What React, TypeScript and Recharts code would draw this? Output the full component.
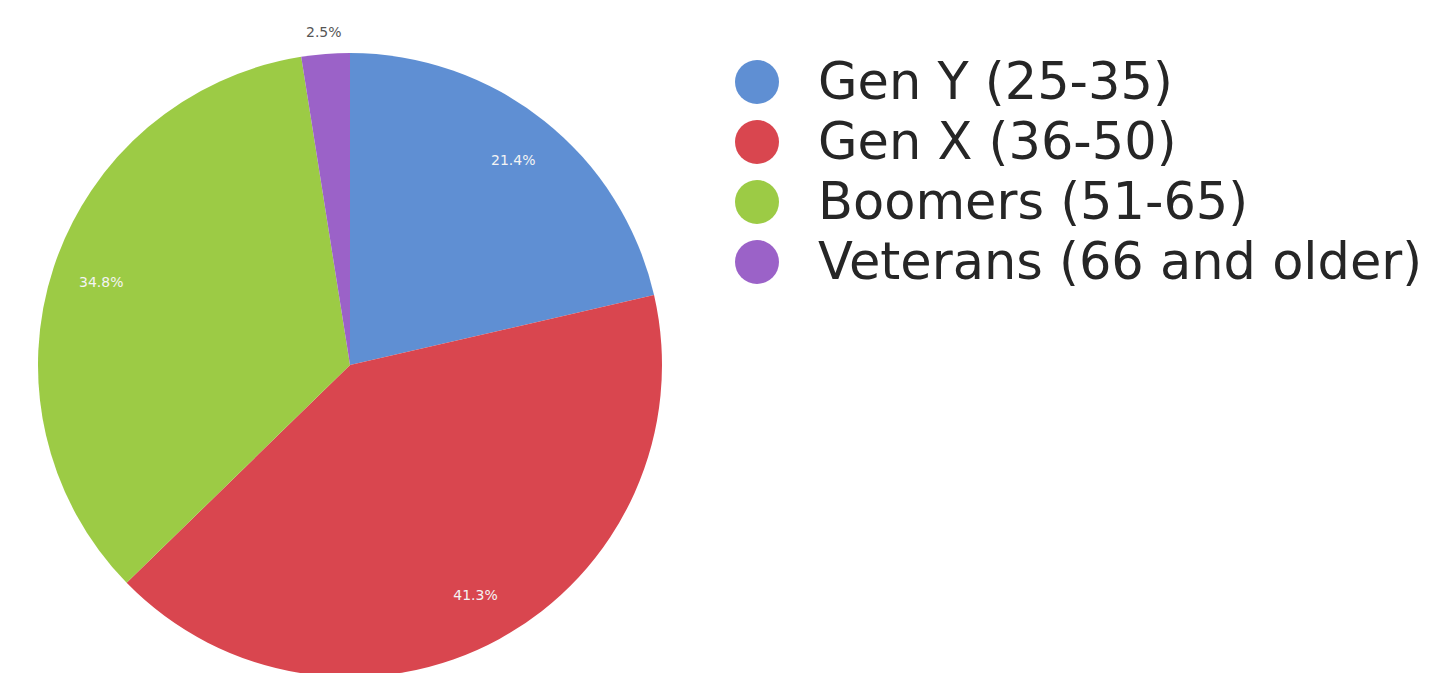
import React from "react";
import { PieChart, Pie, Cell, Legend } from "recharts";

const categories = ["Gen Y (25-35)", "Gen X (36-50)", "Boomers (51-65)", "Veterans (66 and older)"];
const values = [21.4, 41.3, 34.8, 2.5];
const colors = ["#5f8fd3", "#d9464f", "#9ccb45", "#9b62c8"];

const data = categories.map((name, i) => ({ name, value: values[i] }));

const RAD = Math.PI / 180;

const renderLabel = (props: any) => {
  const { cx, cy, midAngle, outerRadius, value, index } = props;
  const outside = value < 5;
  const r = outside ? outerRadius + 22 : outerRadius * 0.84;
  const x = cx + r * Math.cos(-midAngle * RAD);
  const y = cy + r * Math.sin(-midAngle * RAD);
  return (
    <text
      x={x}
      y={y}
      fill={outside ? "#555" : "#f4f4f4"}
      fontSize={14}
      fontFamily="DejaVu Sans, sans-serif"
      textAnchor="middle"
      dominantBaseline="central"
      key={index}
    >
      {value.toFixed(1)}%
    </text>
  );
};

const LegendContent = () => (
  <div style={{ fontFamily: "DejaVu Sans, sans-serif" }}>
    {data.map((d, i) => (
      <div key={d.name} style={{ display: "flex", alignItems: "center", height: 60 }}>
        <svg width={48} height={48} style={{ marginRight: 37, flexShrink: 0 }}>
          <circle cx={24} cy={24} r={22} fill={colors[i]} />
        </svg>
        <span style={{ fontSize: 51, color: "#262626", lineHeight: "60px", whiteSpace: "nowrap" }}>{d.name}</span>
      </div>
    ))}
  </div>
);

export default function App() {
  return (
    <div style={{ background: "#fff" }}>
      <PieChart width={1421} height={665}>
        <Pie
          data={data}
          dataKey="value"
          nameKey="name"
          cx={337}
          cy={352}
          outerRadius={312}
          startAngle={90}
          endAngle={-270}
          stroke="none"
          label={renderLabel}
          labelLine={false}
          isAnimationActive={false}
        >
          {data.map((d, i) => (
            <Cell key={d.name} fill={colors[i]} />
          ))}
        </Pie>
        <Legend
          content={<LegendContent />}
          wrapperStyle={{ position: "absolute", left: 725, top: 44, width: 700 }}
        />
      </PieChart>
    </div>
  );
}
